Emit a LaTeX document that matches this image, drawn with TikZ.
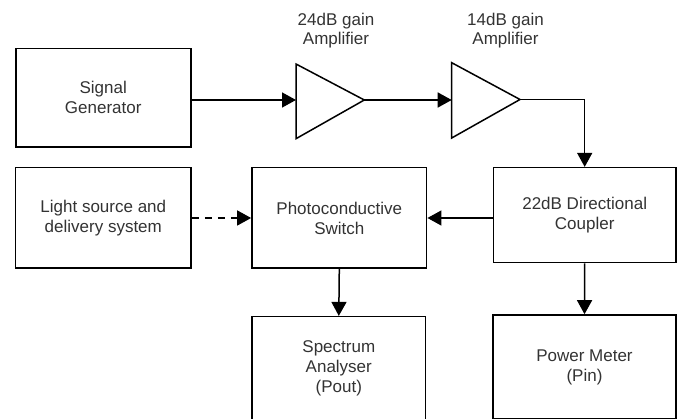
\documentclass[tikz,border=0pt]{standalone}
\usepackage{fontspec}
\setmainfont{Liberation Sans}
\usetikzlibrary{arrows.meta}
\begin{document}
\begin{tikzpicture}[x=1pt,y=-1pt,
  block/.style={draw=black, line width=1.6pt, fill=white, align=center,
    text=black!80, font=\fontsize{17}{20}\selectfont, inner sep=0pt},
  amplabel/.style={align=center, text=black!80, font=\fontsize{17}{19}\selectfont, inner sep=0pt},
  link/.style={line width=1.5pt, -{Triangle[length=14pt,width=15pt]}},
  amp/.style={draw=black, line width=1.5pt, line join=miter}]
\useasboundingbox (0,0) rectangle (681,419);

% blocks
\node[block, minimum width=175pt, minimum height=98.7pt] (siggen) at (103.2,97.7) {Signal\\Generator};
\node[block, minimum width=175.3pt, minimum height=100.6pt] (light) at (103.3,218) {Light source and\\delivery system};
\node[block, minimum width=174.7pt, minimum height=100.6pt] (photo) at (339.3,218) {Photoconductive\\Switch};
\node[block, minimum width=182.7pt, minimum height=95pt] (coupler) at (584.7,215.2) {22dB Directional\\Coupler};
\node[block, minimum width=173.7pt, minimum height=104pt] (spectrum) at (338.8,368.7) {Spectrum\\Analyser\\(Pout)};
\node[block, minimum width=183pt, minimum height=104pt] (power) at (584.5,367) {Power Meter\\(Pin)};

% amplifiers
\draw[amp] (296,64) -- (364.3,100) -- (296,138.7) -- cycle;
\coordinate (amp1in) at (296,100);
\coordinate (amp1out) at (364.3,100);
\node[amplabel] (amp1label) at (336,31) {24dB gain\\Amplifier};

\draw[amp] (451.7,62.7) -- (520,99.5) -- (451.7,138) -- cycle;
\coordinate (amp2in) at (451.7,100);
\coordinate (amp2out) at (520,99.5);
\node[amplabel] (amp2label) at (505.5,31) {14dB gain\\Amplifier};

% connections
\draw[link] (siggen.east |- amp1in) -- (amp1in);
\draw[link] (amp1out) -- (amp2in);
\draw[link] (amp2out) -| (coupler.north);
\draw[link] (coupler.west |- photo.east) -- (photo.east);
\draw[link, dash pattern=on 7pt off 6pt] (light.east) -- (photo.west);
\draw[link] (photo.south) -- (spectrum.north);
\draw[link] (coupler.south) -- (power.north);
\end{tikzpicture}
\end{document}
